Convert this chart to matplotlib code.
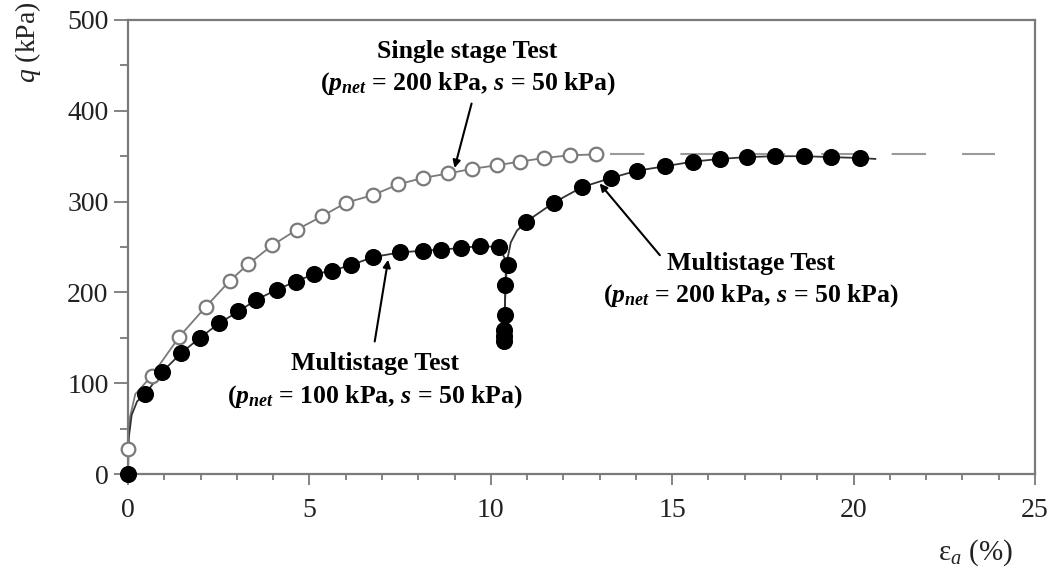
import matplotlib
matplotlib.use('agg')
import matplotlib.pyplot as plt
from matplotlib.ticker import MultipleLocator

plt.rcParams['font.family'] = ['Liberation Serif', 'DejaVu Serif']
plt.rcParams['mathtext.fontset'] = 'custom'
plt.rcParams['mathtext.rm'] = 'Liberation Serif'
plt.rcParams['mathtext.it'] = 'Liberation Serif:italic'
plt.rcParams['mathtext.bf'] = 'Liberation Serif:bold'
plt.rcParams['mathtext.bfit'] = 'Liberation Serif:italic:bold'

# single stage test (p_net = 200 kPa, s = 50 kPa)
single_eps = [0, 0.65, 1.41, 2.14, 2.81, 3.31, 3.98, 4.65, 5.35, 6.02,
              6.74, 7.45, 8.12, 8.83, 9.47, 10.16, 10.80, 11.46, 12.18, 12.89]
single_q = [28, 108, 151, 184, 213, 231, 252, 269, 284, 299,
            307, 319, 326, 331, 336, 340, 344, 348, 351, 352]
# single stage curve, incl. the steep start from the origin
single_curve_eps = [0, 0.0, 0.05, 0.2] + single_eps[1:]
single_curve_q = [0, 28, 62, 88] + single_q[1:]
# extrapolated plateau
plateau_eps = [13.28, 23.9]
plateau_q = [352, 352]

# multistage test, markers
multi_eps = [0, 0.47, 0.93, 1.46, 1.98, 2.51, 3.04, 3.54, 4.10, 4.62,
             5.12, 5.62, 6.14, 6.76, 7.49, 8.13, 8.64, 9.17, 9.70, 10.22,
             10.48, 10.40, 10.40, 10.37, 10.36, 10.36,
             10.98, 11.74, 12.52, 13.31, 14.03, 14.81, 15.57, 16.31, 17.06,
             17.84, 18.62, 19.39, 20.17]
multi_q = [0, 88, 112, 133, 150, 166, 179, 192, 203, 212,
           220, 224, 230, 239, 244, 246, 247, 249, 251, 250,
           230, 208, 175, 159, 152, 147,
           278, 299, 316, 326, 334, 339, 344, 347, 349,
           350, 350, 349, 348]
# multistage curve: first stage, unloading and reloading at 10.4 %
stage1_eps = [0, 0.02, 0.1, 0.25, 0.47, 0.93, 1.46, 1.98, 2.51, 3.04, 3.54,
              4.10, 4.62, 5.12, 5.62, 6.14, 6.76, 7.49, 8.13, 8.64, 9.17,
              9.70, 10.22, 10.42, 10.40, 10.38, 10.36]
stage1_q = [0, 40, 65, 80, 88, 112, 133, 150, 166, 179, 192,
            203, 212, 220, 224, 230, 239, 244, 246, 247, 249,
            251, 250, 235, 200, 170, 147]
stage2_eps = [10.36, 10.40, 10.45, 10.55, 10.72, 10.98, 11.74, 12.52, 13.31,
              14.03, 14.81, 15.57, 16.31, 17.06, 17.84, 18.62, 19.39, 20.17,
              20.6]
stage2_q = [147, 200, 235, 255, 268, 278, 299, 316, 326,
            334, 339, 344, 347, 349, 350, 350, 349, 348, 347]

fig = plt.figure(figsize=(10.52, 5.76), dpi=100)
ax = fig.add_axes([0.1217, 0.177, 0.8621, 0.7883])

grey = '#7a7a7a'

ax.plot(single_curve_eps, single_curve_q, color=grey, lw=1.3, clip_on=False)
ax.plot(single_eps, single_q, ls='none', marker='o', ms=9.8,
        mfc='white', mec=grey, mew=1.6, clip_on=False, zorder=3)
ax.plot(plateau_eps, plateau_q, color='#9a9a9a', lw=1.5, dashes=(16.5, 17.3))

ax.plot(stage1_eps, stage1_q, color='#333333', lw=1.3, clip_on=False)
ax.plot(stage2_eps, stage2_q, color='#333333', lw=1.3, clip_on=False)
ax.plot(multi_eps, multi_q, ls='none', marker='o', ms=11.3, mfc='black',
        mec='black', clip_on=False, zorder=4)

ax.set_xlim(0, 25)
ax.set_ylim(0, 500)
ax.xaxis.set_major_locator(MultipleLocator(5))
ax.xaxis.set_minor_locator(MultipleLocator(1))
ax.yaxis.set_major_locator(MultipleLocator(100))
ax.yaxis.set_minor_locator(MultipleLocator(50))

for s in ax.spines.values():
    s.set_color(grey)
    s.set_linewidth(1.6)
ax.tick_params(axis='x', which='major', direction='out', length=8, width=1.3,
               color=grey, labelsize=20, pad=9)
ax.tick_params(axis='x', which='minor', direction='out', length=4.5, width=1.3,
               color=grey)
ax.tick_params(axis='y', which='major', direction='out', length=10, width=1.3,
               color=grey, labelsize=20, pad=4)
ax.tick_params(axis='y', which='minor', direction='out', length=6, width=1.3,
               color=grey)
for lab in ax.get_xticklabels() + ax.get_yticklabels():
    lab.set_color('#222222')

fig.text(28 / 1052, 1 - 42 / 576, r'$q$ (kPa)', rotation=90, ha='center',
         va='center', fontsize=20, color='#222222')
fig.text(1013 / 1052, 1 - 553 / 576, r'ε$_a$ (%)', ha='right', va='center',
         fontsize=21, color='#222222')

# annotations
tfs = 18.5
ax.text(9.36, 465, 'Single stage Test', ha='center', va='center',
        fontsize=tfs, fontweight='bold')
ax.text(9.36, 430, r'($\mathbfit{p}_{\mathbfit{net}}$ = 200 kPa, $\mathbfit{s}$ = 50 kPa)',
        ha='center', va='center', fontsize=tfs, fontweight='bold')
ax.annotate('', xy=(9.0, 337), xytext=(9.47, 408),
            arrowprops=dict(arrowstyle='-|>', color='black', lw=1.5,
                            mutation_scale=11, shrinkA=0, shrinkB=0))

ax.text(6.81, 122, 'Multistage Test', ha='center', va='center',
        fontsize=tfs, fontweight='bold')
ax.text(6.81, 85, r'($\mathbfit{p}_{\mathbfit{net}}$ = 100 kPa, $\mathbfit{s}$ = 50 kPa)',
        ha='center', va='center', fontsize=tfs, fontweight='bold')
ax.annotate('', xy=(7.17, 236), xytext=(6.8, 146),
            arrowprops=dict(arrowstyle='-|>', color='black', lw=1.5,
                            mutation_scale=11, shrinkA=0, shrinkB=0))

ax.text(17.17, 232, 'Multistage Test', ha='center', va='center',
        fontsize=tfs, fontweight='bold')
ax.text(17.17, 197, r'($\mathbfit{p}_{\mathbfit{net}}$ = 200 kPa, $\mathbfit{s}$ = 50 kPa)',
        ha='center', va='center', fontsize=tfs, fontweight='bold')
ax.annotate('', xy=(13.0, 320), xytext=(14.66, 241),
            arrowprops=dict(arrowstyle='-|>', color='black', lw=1.5,
                            mutation_scale=11, shrinkA=0, shrinkB=0))

fig.savefig('out.png', dpi=100)
